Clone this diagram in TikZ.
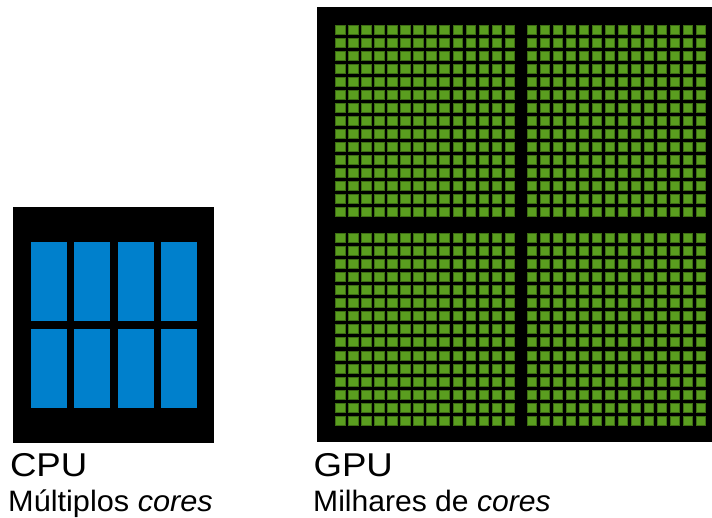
\documentclass[tikz,border=0pt]{standalone}
\usepackage{fontspec}
\setmainfont{Liberation Sans}
\definecolor{cpublue}{HTML}{0080CC}
\definecolor{gpugreen}{HTML}{5A9E1F}
\definecolor{gpuedge}{HTML}{3E6E14}
\begin{document}
\begin{tikzpicture}[x=1pt,y=-1pt,
  chip/.style={fill=black},
  bigcore/.style={fill=cpublue},
  smallcore/.style={fill=gpugreen,draw=gpuedge,line width=0.7pt},
  title/.style={inner sep=0pt,anchor=base west,font=\fontsize{33}{38}\selectfont},
  sub/.style={inner sep=0pt,anchor=base west,font=\fontsize{29.5}{34}\selectfont}]
\useasboundingbox (0,0) rectangle (712,518);
% CPU
\fill[chip] (13,207) rectangle (214,443);
\foreach \x in {31,74.3,117.7,161}
  \foreach \y in {242,329}
    \fill[bigcore] (\x,\y) rectangle ++(36,79);
% GPU
\fill[chip] (317,7) rectangle (712,442);
\foreach \qx in {335.6,527}
  \foreach \qy in {25.3,233.6}
    \foreach \i in {0,...,13}
      \foreach \j in {0,...,14}
        \filldraw[smallcore] (\qx+13.03*\i,\qy+13.03*\j) rectangle ++(9.4,9);
% labels
\node[title] (cpu) at (9.8,476) {\scalebox{1.11}[1]{CPU}};
\node[sub] (cpusub) at (8,511.3) {\scalebox{1.04}[1]{Múltiplos \textit{cores}}};
\node[title] (gpu) at (313.3,476) {\scalebox{1.11}[1]{GPU}};
\node[sub] (gpusub) at (313,511.3) {\scalebox{1.02}[1]{Milhares de \textit{cores}}};
\end{tikzpicture}
\end{document}
